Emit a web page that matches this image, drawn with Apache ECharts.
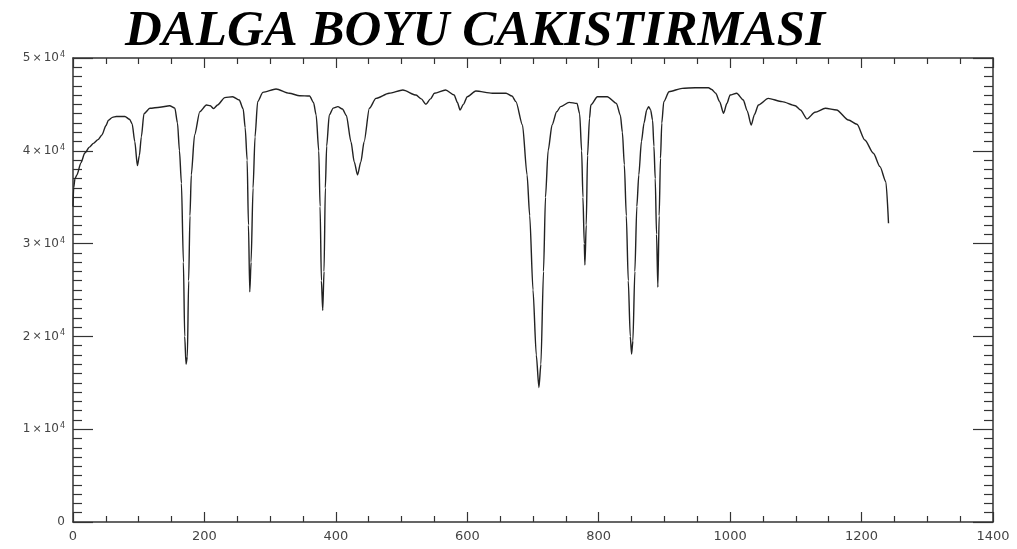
<!DOCTYPE html>
<html>
<head>
<meta charset="utf-8">
<script src="https://cdn.jsdelivr.net/npm/echarts@6/dist/echarts.min.js"></script>
<style>
html,body{margin:0;padding:0;background:#fff;}
#c{width:1017px;height:549px;}
</style>
</head>
<body>
<div id="c"></div>
<script>
const titleText = 'DALGA BOYU CAKISTIRMASI';
const xTicks = [0, 200, 400, 600, 800, 1000, 1200, 1400];
const yTicks = [0, 10000, 20000, 30000, 40000, 50000];
const waveX = [0,1,3,6,12,18,25,31,38,44,50,54,60,66,79,86,90,94,98,101,104,108,117,132,147,155,159,162,165,168,170,172,174,176,178,180,185,193,203,209,214,220,231,243,253,259,262,265,267,269,271,274,277,281,289,309,329,345,360,366,370,374,376,378,380,382,384,386,390,396,403,410,416,423,428,433,438,443,451,461,481,502,522,530,537,544,550,567,580,585,589,594,600,613,638,659,668,674,684,691,695,700,705,709,712,716,719,723,729,736,742,755,767,771,774,776,778,779,781,783,786,788,798,813,827,833,836,839,842,845,848,850,852,855,858,861,865,869,873,876,879,882,884,886,888,890,892,894,896,899,907,927,947,967,972,978,984,990,995,1000,1010,1020,1026,1032,1037,1043,1058,1079,1099,1107,1117,1129,1145,1162,1180,1193,1205,1218,1228,1237,1241];
const intensity = [34000,36000,37000,37400,38700,39760,40400,40800,41200,41700,42700,43300,43600,43700,43700,43400,42900,41000,38400,39500,41500,44000,44580,44690,44860,44600,43000,40000,36500,28000,20000,17000,17800,26000,33000,37400,41700,44220,44940,44850,44550,44940,45730,45830,45480,44500,42500,39000,32000,24800,28000,36000,41500,45300,46300,46660,46200,45940,45900,45200,43860,40000,34000,26000,22800,27000,36000,40500,43860,44600,44760,44500,43800,40980,38800,37400,38800,40980,44580,45650,46200,46550,46010,45600,45010,45600,46200,46550,46010,45200,44400,45000,45830,46440,46200,46200,45900,45300,42780,37390,33000,25000,18000,14500,17000,27000,35000,40000,42780,44200,44760,45220,45110,44000,40000,35000,30000,27700,32000,39500,43500,44940,45830,45830,45110,43800,42000,38500,33000,26000,20000,18100,19500,27000,34000,37400,41000,43000,44400,44760,44400,43300,40500,37000,31000,25300,33000,39190,43000,45300,46370,46730,46800,46800,46600,46200,45300,44040,45100,46010,46200,45480,44300,42780,43900,44940,45650,45300,44860,44400,43430,44150,44580,44400,43320,42860,41160,39730,38290,36670,32200];

const chart = echarts.init(document.getElementById('c'), null, {renderer: 'canvas'});
const seriesData = waveX.map((x, i) => [x, intensity[i]]);
const axisColor = '#333';
const labelFont = '"DejaVu Sans", "Liberation Sans", Arial, sans-serif';
function yLabel(v) {
  if (v === 0) return '{a|0}';
  return '{a|' + (v / 10000) + '}{x|×}{a|10}{s|4}';
}
const baseX = {
  type: 'value', min: xTicks[0], max: xTicks[xTicks.length - 1], interval: 200,
  axisLine: {show: true, onZero: false, lineStyle: {color: axisColor, width: 1.5}},
  axisTick: {show: true, inside: true, length: 10, lineStyle: {color: axisColor, width: 1.2}},
  minorTick: {show: true, splitNumber: 4, length: 6, lineStyle: {color: axisColor, width: 1.2}},
  splitLine: {show: false},
  minorSplitLine: {show: false}
};
const baseY = {
  type: 'value', min: yTicks[0], max: yTicks[yTicks.length - 1], interval: 10000,
  axisLine: {show: true, onZero: false, lineStyle: {color: axisColor, width: 1.5}},
  axisTick: {show: true, inside: true, length: 20, lineStyle: {color: axisColor, width: 1.2}},
  minorTick: {show: true, splitNumber: 10, length: 9, lineStyle: {color: axisColor, width: 1.2}},
  splitLine: {show: false},
  minorSplitLine: {show: false}
};
chart.setOption({
  animation: false,
  backgroundColor: '#fff',
  grid: {left: 73, right: 24, top: 58, bottom: 27, containLabel: false},
  graphic: [{
    type: 'text', left: 125, top: 6, z: 10,
    style: {
      text: titleText,
      font: 'italic bold 51px "Liberation Serif", "Times New Roman", serif',
      fill: '#000'
    }
  }],
  xAxis: [
    Object.assign({}, baseX, {position: 'bottom',
      axisLabel: {show: true, margin: 8, fontSize: 13, color: '#444', fontFamily: labelFont,
        formatter: v => String(v)}}),
    Object.assign({}, baseX, {position: 'top', axisLabel: {show: false}})
  ],
  yAxis: [
    Object.assign({}, baseY, {position: 'left',
      axisLabel: {show: true, margin: 8, formatter: yLabel,
        rich: {
          a: {fontSize: 12, color: '#444', fontFamily: labelFont, lineHeight: 14},
          x: {fontSize: 11, color: '#444', fontFamily: labelFont, lineHeight: 14, padding: [0, 2, 0, 2]},
          s: {fontSize: 8, color: '#444', fontFamily: labelFont, verticalAlign: 'top', lineHeight: 14, padding: [0, 0, 0, 1]}
        }}}),
    Object.assign({}, baseY, {position: 'right', axisLabel: {show: false}})
  ],
  series: [{
    type: 'line', xAxisIndex: 0, yAxisIndex: 0,
    data: seriesData, showSymbol: false, symbol: 'none', silent: true,
    smooth: 0.25, smoothMonotone: 'x',
    lineStyle: {color: '#222', width: 1.4}
  }]
});
</script>
</body>
</html>
